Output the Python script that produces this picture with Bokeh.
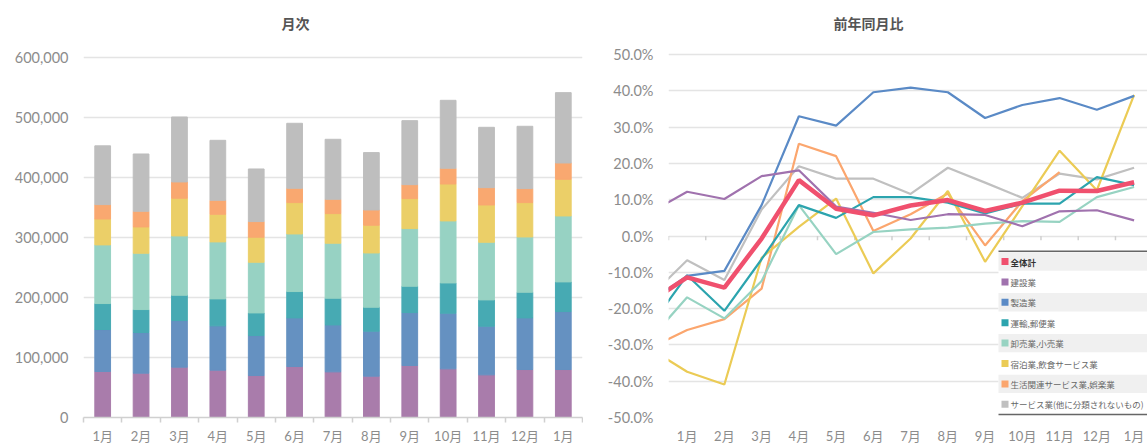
import math
from bokeh.plotting import figure
from bokeh.models import (Range1d, FixedTicker, NumeralTickFormatter, PrintfTickFormatter,
                          ColumnDataSource, BoxAnnotation, Label)
from bokeh.layouts import row
from bokeh.embed import file_html
from bokeh.resources import INLINE

# ---------------- data ----------------
months = ["1月", "2月", "3月", "4月", "5月", "6月", "7月", "8月", "9月", "10月", "11月", "12月", "1月"]
series_names = ["建設業", "製造業", "運輸,郵便業", "卸売業,小売業",
                "宿泊業,飲食サービス業", "生活関連サービス業,娯楽業", "サービス業(他に分類されないもの)"]
total_name = "全体計"
titles = ["月次", "前年同月比"]

# 月次 (stacked bars)
monthly_construction = [76700, 73900, 83900, 78900, 70000, 85000, 76100, 68900, 86700, 81100, 71100, 80000, 80000]
monthly_manufacturing = [70000, 67800, 77800, 73900, 66700, 81100, 78300, 75000, 88300, 92800, 81100, 86100, 96700]
monthly_transport = [43300, 38300, 42200, 45000, 37700, 43900, 44500, 40000, 43900, 50500, 43900, 42800, 49400]
monthly_retail = [97800, 93900, 98900, 95000, 84500, 96100, 91700, 90500, 96100, 103400, 96100, 92200, 110000]
monthly_hospitality = [43200, 43900, 62800, 46100, 41700, 52200, 49400, 46200, 50000, 61600, 62200, 57200, 61100]
monthly_lifestyle = [24000, 26100, 27200, 23300, 26100, 23900, 23900, 25500, 23300, 26200, 28900, 23400, 27200]
monthly_services = [98000, 95500, 108300, 100000, 87700, 108400, 100000, 95600, 106700, 113300, 100600, 103900, 117300]

# 前年同月比 (%), first value is the month before the first label (partly visible at the left edge)
yoy_total = [-18.2, -11.4, -14.2, -0.7, 15.4, 7.5, 5.7, 8.4, 9.9, 6.9, 9.2, 12.5, 12.4, 14.8]
yoy_construction = [6.4, 12.2, 10.2, 16.5, 18.1, 8.1, 6.4, 4.4, 6.0, 5.8, 2.7, 6.8, 7.1, 4.3]
yoy_manufacturing = [-18.0, -11.0, -9.6, 8.5, 33.0, 30.4, 39.6, 40.9, 39.6, 32.5, 36.1, 38.0, 34.8, 38.6]
yoy_transport = [-25.0, -10.8, -20.6, -6.4, 8.5, 5.0, 10.7, 10.7, 9.2, 6.2, 8.9, 8.9, 16.2, 14.0]
yoy_retail = [-28.5, -16.9, -22.7, -12.4, 8.5, -5.0, 1.1, 1.8, 2.3, 3.4, 4.1, 3.9, 10.7, 13.5]
yoy_hospitality = [-31.0, -37.4, -40.9, -6.0, 2.5, 10.3, -10.3, -0.7, 12.4, -7.1, 8.2, 23.5, 12.6, 38.9]
yoy_lifestyle = [-30.9, -25.9, -22.9, -14.5, 25.4, 22.0, 1.4, 6.0, 11.7, -2.6, 9.6, 17.6, float("nan"), float("nan")]
yoy_services = [-16.7, -6.7, -12.1, 7.3, 19.2, 15.8, 15.8, 11.6, 18.8, 14.7, 10.5, 17.2, 15.6, 18.8]

left_ticks = [0, 100000, 200000, 300000, 400000, 500000, 600000]
right_ticks = [-50, -40, -30, -20, -10, 0, 10, 20, 30, 40, 50]

# ---------------- style ----------------
FONT = "Lato, 'Noto Sans CJK JP', sans-serif"
CJK = "'Noto Sans CJK JP', sans-serif"
bar_colors = ["#A97CAB", "#6591C1", "#47AAB3", "#97D2C3", "#EBCF68", "#F9A870", "#BEBEBE"]
line_colors = ["#A072AE", "#5A8AC6", "#2CA4AE", "#97D3C2", "#EBCB55", "#FBA66E", "#C0C0C0"]
total_color = "#F0506E"
label_color = "#8C8C8C"
grid_color = "#E4E4E4"

idx = list(range(len(months)))
bounds = [i - 0.5 for i in range(len(months) + 1)]
label_map = {i: m for i, m in enumerate(months)}


def add_title(p, text, x, y):
    # chart title, drawn in the blank top band of the frame (frame-relative screen px)
    p.add_layout(Label(x=x, y=y, x_units="screen", y_units="screen", text=text,
                       text_align="center", text_baseline="middle", text_font=CJK,
                       text_font_size="14px", text_font_style="bold", text_color="#555555"))


# ---------------- left: 月次 ----------------
monthly = [monthly_construction, monthly_manufacturing, monthly_transport, monthly_retail,
           monthly_hospitality, monthly_lifestyle, monthly_services]
keys = [f"s{i}" for i in range(len(monthly))]
src = ColumnDataSource(dict(x=idx, **{k: v for k, v in zip(keys, monthly)}))

p1 = figure(width=583, height=447, x_range=Range1d(-0.5, len(months) - 0.5),
            y_range=Range1d(0, 687000), output_backend="svg", toolbar_location=None,
            min_border_left=83, min_border_right=1, min_border_top=5, min_border_bottom=30)
p1.vbar_stack(keys, x="x", width=0.41, color=bar_colors, source=src)
add_title(p1, titles[0], 212, 395)

p1.xaxis.ticker = FixedTicker(ticks=idx, minor_ticks=bounds)
p1.xaxis.major_label_overrides = label_map
p1.xaxis.major_tick_line_color = None
p1.xaxis.major_tick_out = 0
p1.xaxis.major_tick_in = 0
p1.xaxis.minor_tick_line_color = "#D0D0D0"
p1.xaxis.minor_tick_out = 5
p1.xaxis.minor_tick_in = 0
p1.xaxis.minor_tick_line_width = 1.5
p1.xaxis.axis_line_color = "#D0D0D0"
p1.xaxis.axis_line_width = 1.5
p1.xaxis.major_label_standoff = 5
p1.xaxis.major_label_text_font = FONT
p1.xaxis.major_label_text_font_size = "13px"
p1.xaxis.major_label_text_color = label_color

p1.yaxis.ticker = FixedTicker(ticks=left_ticks)
p1.yaxis.formatter = NumeralTickFormatter(format="0,0")
p1.yaxis.axis_line_color = None
p1.yaxis.major_tick_line_color = None
p1.yaxis.minor_tick_line_color = None
p1.yaxis.major_tick_out = 0
p1.yaxis.major_label_standoff = 15
p1.yaxis.major_label_text_font = FONT
p1.yaxis.major_label_text_font_size = "14.5px"
p1.yaxis.major_label_text_color = label_color

p1.xgrid.grid_line_color = None
p1.ygrid.ticker = FixedTicker(ticks=left_ticks)
p1.ygrid.grid_line_color = grid_color
p1.ygrid.grid_line_width = 1.5
p1.outline_line_color = None

# ---------------- right: 前年同月比 ----------------
yoy_x = [idx[0] - 1] + idx
yoy_series = [yoy_construction, yoy_manufacturing, yoy_transport, yoy_retail,
              yoy_hospitality, yoy_lifestyle, yoy_services]

p2 = figure(width=564, height=447, x_range=Range1d(-0.5, 12.36),
            y_range=Range1d(-50, 63.5), output_backend="svg", toolbar_location=None,
            min_border_left=85, min_border_right=0, min_border_top=5, min_border_bottom=30)
add_title(p2, titles[1], 200, 395)

p2.xaxis.ticker = FixedTicker(ticks=idx)
p2.xaxis.major_label_overrides = label_map
p2.xaxis.major_tick_line_color = None
p2.xaxis.major_tick_out = 0
p2.xaxis.major_tick_in = 0
p2.xaxis.minor_tick_line_color = None
p2.xaxis.axis_line_color = None
p2.xaxis.major_label_standoff = 10
p2.xaxis.major_label_text_font = FONT
p2.xaxis.major_label_text_font_size = "13px"
p2.xaxis.major_label_text_color = label_color

p2.yaxis.ticker = FixedTicker(ticks=right_ticks)
p2.yaxis.formatter = PrintfTickFormatter(format="%.1f%%")
p2.yaxis.axis_line_color = None
p2.yaxis.major_tick_line_color = None
p2.yaxis.minor_tick_line_color = None
p2.yaxis.major_tick_out = 0
p2.yaxis.major_label_standoff = 15
p2.yaxis.major_label_text_font = FONT
p2.yaxis.major_label_text_font_size = "14.5px"
p2.yaxis.major_label_text_color = label_color

p2.xgrid.grid_line_color = None
p2.ygrid.ticker = FixedTicker(ticks=right_ticks)
p2.ygrid.grid_line_color = grid_color
p2.ygrid.grid_line_width = 1.5
p2.outline_line_color = None

# category tick marks on the 0% line
p2.segment(x0=bounds, y0=[0] * len(bounds), x1=bounds, y1=[-1.2] * len(bounds),
           line_color="#D0D0D0", line_width=1.5)

for vals, col in reversed(list(zip(yoy_series, line_colors))):
    p2.line(x=yoy_x, y=vals, line_color=col, line_width=2.2)
p2.line(x=yoy_x, y=yoy_total, line_color=total_color, line_width=4.5)

# ---------------- legend (frame-relative screen px) ----------------
leg_names = [total_name] + series_names
leg_colors = [total_color] + line_colors
lg_left, lg_right = 330, 490
lg_bottom, row_h = 3, 20.4
n = len(leg_names)
lg_top = lg_bottom + n * row_h


def sbox(**kw):
    return BoxAnnotation(left_units="screen", right_units="screen", top_units="screen",
                         bottom_units="screen", fill_alpha=1, line_color=None, **kw)


p2.add_layout(sbox(left=lg_left, right=lg_right, bottom=lg_bottom, top=lg_top, fill_color="white"))
for i, (name, col) in enumerate(zip(leg_names, leg_colors)):
    top = lg_top - i * row_h
    bot = top - row_h
    mid = (top + bot) / 2
    if i % 2 == 0:
        p2.add_layout(sbox(left=lg_left, right=lg_right, bottom=bot + 1, top=top - 1,
                           fill_color="#F0F0F0"))
    p2.add_layout(sbox(left=lg_left + 3, right=lg_left + 10, bottom=mid - 3.5, top=mid + 3.5,
                       fill_color=col))
    p2.add_layout(Label(x=lg_left + 12, y=mid, x_units="screen", y_units="screen", text=name,
                        text_baseline="middle", text_align="left", text_font=CJK,
                        text_font_size="8.5px", text_color="#333333" if i == 0 else "#666666",
                        text_font_style="bold" if i == 0 else "normal"))
for yv in (lg_top, lg_bottom):
    p2.add_layout(sbox(left=lg_left, right=lg_right, bottom=yv - 0.75, top=yv + 0.75,
                       fill_color="#666666"))

layout = row(p1, p2, spacing=0)
open("out.html", "w").write(file_html(layout, INLINE))
